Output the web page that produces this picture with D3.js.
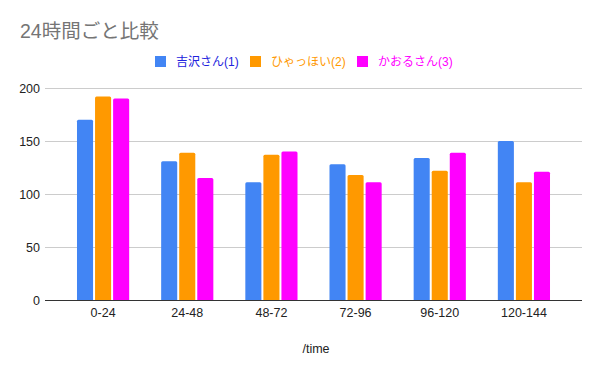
<!DOCTYPE html>
<html>
<head>
<meta charset="utf-8">
<script src="https://cdn.jsdelivr.net/npm/d3@7"></script>
<style>
  body { margin: 0; background: #fff; }
  text { font-family: Arial, "Liberation Sans", "Noto Sans CJK JP", sans-serif; }
</style>
</head>
<body>
<div id="chart"></div>
<script>
// chart data
var categories = ['0-24', '24-48', '48-72', '72-96', '96-120', '120-144'];
var seriesNames = ['吉沢さん(1)', 'ひゃっほい(2)', 'かおるさん(3)'];
var yoshizawa = [170, 131, 111, 128, 134, 150];
var hyahhoi = [192, 139, 137, 118, 122, 111];
var kaoru = [190, 115, 140, 111, 139, 121];
var yTicks = [0, 50, 100, 150, 200];

var seriesValues = [yoshizawa, hyahhoi, kaoru];
var barColors = ['#4285f4', '#ff9900', '#ff00ff'];
var textColors = ['#2222dd', '#ff9900', '#ff00ff'];

var width = 600, height = 371;
var plotLeft = 45, plotRight = 582, plotTop = 88, plotBottom = 300;

var svg = d3.select('#chart')
  .append('svg')
  .attr('width', width)
  .attr('height', height);

var x = d3.scaleBand().domain(categories).range([61, 566]).paddingInner(0.38).paddingOuter(0.19);
var xInner = d3.scaleBand().domain([0, 1, 2]).range([0, x.bandwidth()]).paddingInner(0.11);
var y = d3.scaleLinear().domain([0, 200]).range([plotBottom, plotTop]);

// title
svg.append('text')
  .attr('x', 20).attr('y', 38)
  .attr('font-size', 19.5)
  .attr('fill', '#757575')
  .text('24時間ごと比較');

// gridlines
svg.append('g')
  .selectAll('line')
  .data(yTicks.filter(function (d) { return d > 0; }))
  .enter()
  .append('line')
  .attr('x1', plotLeft).attr('x2', plotRight)
  .attr('y1', function (d) { return Math.round(y(d)) + 0.5; })
  .attr('y2', function (d) { return Math.round(y(d)) + 0.5; })
  .attr('stroke', '#cccccc');

// y axis labels
var yAxis = d3.axisLeft(y).tickValues(yTicks).tickSize(0).tickPadding(0);
var yg = svg.append('g').attr('transform', 'translate(40,0)').call(yAxis);
yg.select('.domain').remove();
yg.selectAll('text').attr('font-size', 12.5).attr('fill', '#222').attr('font-family', null);

// bars
var groups = svg.append('g')
  .selectAll('g')
  .data(categories)
  .enter()
  .append('g')
  .attr('transform', function (d) { return 'translate(' + x(d) + ',0)'; });

groups.selectAll('path')
  .data(function (d, i) {
    return seriesValues.map(function (s, k) { return { k: k, v: s[i] }; });
  })
  .enter()
  .append('path')
  .attr('fill', function (d) { return barColors[d.k]; })
  .attr('d', function (d) {
    var x0 = xInner(d.k), w = xInner.bandwidth();
    var top = y(d.v), r = 1.5;
    return 'M' + x0 + ',' + plotBottom +
      'V' + (top + r) + 'Q' + x0 + ',' + top + ' ' + (x0 + r) + ',' + top +
      'H' + (x0 + w - r) + 'Q' + (x0 + w) + ',' + top + ' ' + (x0 + w) + ',' + (top + r) +
      'V' + plotBottom + 'Z';
  });

// baseline
svg.append('line')
  .attr('x1', plotLeft).attr('x2', plotRight)
  .attr('y1', plotBottom + 0.5).attr('y2', plotBottom + 0.5)
  .attr('stroke', '#333333');

// x axis labels
var xAxis = d3.axisBottom(x).tickSize(0).tickPadding(8);
var xg = svg.append('g').attr('transform', 'translate(0,' + plotBottom + ')').call(xAxis);
xg.select('.domain').remove();
xg.selectAll('text').attr('font-size', 12.5).attr('fill', '#222').attr('font-family', null);

// x axis title
svg.append('text')
  .attr('x', 316).attr('y', 353)
  .attr('text-anchor', 'middle')
  .attr('font-size', 12.5)
  .attr('fill', '#222')
  .text('/time');

// legend
var legendX = [155, 250, 357];
var legend = svg.append('g')
  .selectAll('g')
  .data(seriesNames)
  .enter()
  .append('g')
  .attr('transform', function (d, i) { return 'translate(' + legendX[i] + ',56)'; });

legend.append('rect')
  .attr('width', 11).attr('height', 11)
  .attr('fill', function (d, i) { return barColors[i]; });

legend.append('text')
  .attr('x', 21).attr('y', 10)
  .attr('font-size', 12)
  .attr('fill', function (d, i) { return textColors[i]; })
  .text(function (d) { return d; });
</script>
</body>
</html>
